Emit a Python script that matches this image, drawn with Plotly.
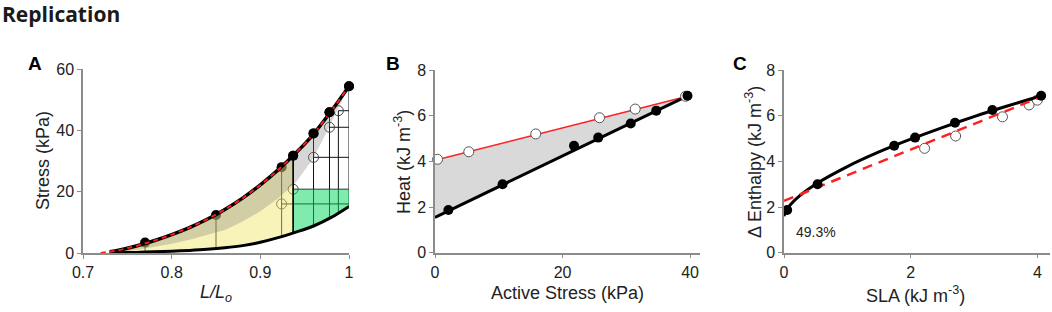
import plotly.graph_objects as go

W, H = 1052, 312

# ---------------- Panel A data ----------------
a_top_x = [0.72, 0.73, 0.74, 0.76, 0.78, 0.80, 0.82, 0.84, 0.86, 0.88, 0.90, 0.92, 0.94, 0.96, 0.98, 1.0]
a_top_y = [0.0, 0.4, 0.9, 2.3, 4.0, 6.0, 8.3, 11.0, 14.2, 17.9, 22.2, 27.1, 32.6, 38.8, 46.3, 54.4]

a_pas_x = [0.73, 0.74, 0.76, 0.78, 0.80, 0.82, 0.84, 0.86, 0.88, 0.90, 0.92, 0.94, 0.96, 0.98, 1.0]
a_pas_y = [0.0, 0.05, 0.2, 0.4, 0.6, 0.85, 1.2, 1.7, 2.4, 3.5, 5.0, 6.8, 8.8, 11.6, 15.2]

a_gray_x = [0.735, 0.76, 0.78, 0.80, 0.82, 0.84, 0.86, 0.88, 0.90, 0.92, 0.94, 0.96, 0.98, 1.0]
a_gray_y = [0.0, 1.0, 1.9, 3.0, 4.3, 5.8, 7.5, 10.3, 13.6, 17.8, 23.0, 31.0, 42.5, 54.4]

a_pts_x = [0.77, 0.85, 0.924, 0.937, 0.96, 0.978, 1.0]
a_pts_y = [3.4, 12.4, 28.0, 31.7, 39.0, 45.9, 54.4]
a_pts_pas = [0.3, 1.45, 5.3, 6.5, 8.8, 11.3, 15.2]

a_open_x = [0.924, 0.937, 0.96, 0.978, 0.988]
a_open_y = [16.0, 20.8, 31.2, 41.0, 46.4]
a_open_pas = [5.3, 6.5, 8.8, 11.3, 12.9]

a_split = 0.937      # boundary between yellow and green areas
a_split_top = 31.7
a_split_pas = 6.5
a_green_top = 20.8

# ---------------- Panel B data ----------------
b_fill_x = [2.1, 10.6, 21.8, 25.6, 30.7, 34.7, 39.6]
b_fill_y = [1.87, 3.0, 4.68, 5.04, 5.66, 6.22, 6.87]
b_open_x = [0.4, 5.3, 15.8, 25.8, 31.4, 39.3]
b_open_y = [4.09, 4.42, 5.2, 5.91, 6.29, 6.85]
b_line_x = [0.0, 39.6]
b_black_y = [1.55, 6.87]
b_red_y = [4.05, 6.85]

# ---------------- Panel C data ----------------
c_fill_x = [0.05, 0.53, 1.74, 2.07, 2.70, 3.29, 4.06]
c_fill_y = [1.87, 3.0, 4.68, 5.04, 5.69, 6.25, 6.87]
c_open_x = [2.22, 2.71, 3.45, 3.87, 4.0]
c_open_y = [4.57, 5.11, 5.95, 6.47, 6.68]
c_fit_x = [0.0, 0.02, 0.1, 0.25, 0.5, 1.0, 1.5, 2.0, 2.5, 3.0, 3.5, 4.0, 4.08]
c_fit_y = [1.6, 1.78, 2.1, 2.5, 3.0, 3.77, 4.41, 4.97, 5.48, 5.96, 6.4, 6.82, 6.88]
c_lin_x = [0.0, 4.08]
c_lin_y = [2.27, 6.85]

FONT = "Liberation Sans, Arial, sans-serif"
TICKC = "#222222"
AXC = "#8c8c8c"

fig = go.Figure()

def add(tr):
    tr.cliponaxis = False
    fig.add_trace(tr)

# ===== Panel A =====
XA, YA = "x", "y"
vx, vy = [], []
for x, y, p in zip(a_pts_x, a_pts_y, a_pts_pas):
    vx += [x, x, None]; vy += [p, y, None]
for x, y, p in zip(a_open_x, a_open_y, a_open_pas):
    if x not in a_pts_x:
        vx += [x, x, None]; vy += [p, y, None]
for x, y in zip(a_open_x, a_open_y):
    vx += [x, a_pts_x[-1], None]; vy += [y, y, None]
add(go.Scatter(x=vx, y=vy, mode="lines", line=dict(color="#111", width=1),
               xaxis=XA, yaxis=YA, hoverinfo="skip"))
add(go.Scatter(x=a_open_x, y=a_open_y, mode="markers",
               marker=dict(symbol="circle-open", size=10, color="#444", line=dict(width=1)),
               xaxis=XA, yaxis=YA))
add(go.Scatter(x=a_pts_x, y=a_pts_y, mode="markers",
               marker=dict(size=10, color="black"), xaxis=XA, yaxis=YA))

# yellow area
ty = [(x, y) for x, y in zip(a_top_x, a_top_y) if 0.73 <= x < a_split] + [(a_split, a_split_top)]
pyl = [(x, y) for x, y in zip(a_pas_x, a_pas_y) if x < a_split] + [(a_split, a_split_pas)]
yx = [p[0] for p in ty] + [p[0] for p in reversed(pyl)]
yy = [p[1] for p in ty] + [p[1] for p in reversed(pyl)]
add(go.Scatter(x=yx, y=yy, mode="lines", fill="toself", line=dict(width=0),
               fillcolor="rgba(240,230,100,0.45)", xaxis=XA, yaxis=YA, hoverinfo="skip"))
# gray band
gtx = [x for x in a_top_x if x >= a_gray_x[0]]
gty = [y for x, y in zip(a_top_x, a_top_y) if x >= a_gray_x[0]]
gx = gtx + list(reversed(a_gray_x))
gy = gty + list(reversed(a_gray_y))
add(go.Scatter(x=gx, y=gy, mode="lines", fill="toself", line=dict(width=0),
               fillcolor="rgba(120,120,120,0.30)", xaxis=XA, yaxis=YA, hoverinfo="skip"))
# green area
pg = [(a_split, a_split_pas)] + [(x, y) for x, y in zip(a_pas_x, a_pas_y) if x > a_split]
grx = [a_split, a_pas_x[-1]] + [p[0] for p in reversed(pg)]
gry = [a_green_top, a_green_top] + [p[1] for p in reversed(pg)]
add(go.Scatter(x=grx, y=gry, mode="lines", fill="toself", line=dict(width=0),
               fillcolor="rgba(0,215,90,0.5)", xaxis=XA, yaxis=YA, hoverinfo="skip"))
add(go.Scatter(x=[a_split, a_split], y=[a_split_pas, a_split_top], mode="lines",
               line=dict(color="black", width=1.6), xaxis=XA, yaxis=YA, hoverinfo="skip"))
add(go.Scatter(x=a_pas_x, y=a_pas_y, mode="lines",
               line=dict(color="black", width=3, shape="spline", smoothing=0.8),
               xaxis=XA, yaxis=YA))
add(go.Scatter(x=a_top_x[1:], y=a_top_y[1:], mode="lines",
               line=dict(color="black", width=3.5, shape="spline", smoothing=0.8),
               xaxis=XA, yaxis=YA))
add(go.Scatter(x=a_top_x, y=a_top_y, mode="lines",
               line=dict(color="#ff1a1a", width=2, dash="5px,4px", shape="spline", smoothing=0.8),
               xaxis=XA, yaxis=YA))
ox = [x for x in a_pts_x if x >= a_split]
oy = [y for x, y in zip(a_pts_x, a_pts_y) if x >= a_split]
add(go.Scatter(x=ox, y=oy, mode="markers", marker=dict(size=10, color="black"), xaxis=XA, yaxis=YA))

# ===== Panel B =====
XB, YB = "x2", "y2"
add(go.Scatter(x=b_line_x + list(reversed(b_line_x)), y=b_red_y + list(reversed(b_black_y)),
               mode="lines", fill="toself", line=dict(width=0), fillcolor="#d9d9d9",
               xaxis=XB, yaxis=YB, hoverinfo="skip"))
add(go.Scatter(x=b_line_x, y=b_red_y, mode="lines", line=dict(color="#ff2020", width=1.5), xaxis=XB, yaxis=YB))
add(go.Scatter(x=b_line_x, y=b_black_y, mode="lines", line=dict(color="black", width=3), xaxis=XB, yaxis=YB))
add(go.Scatter(x=b_open_x, y=b_open_y, mode="markers",
               marker=dict(size=10, color="white", line=dict(color="#555", width=1)), xaxis=XB, yaxis=YB))
add(go.Scatter(x=b_fill_x, y=b_fill_y, mode="markers", marker=dict(size=10, color="black"), xaxis=XB, yaxis=YB))

# ===== Panel C =====
XC, YC = "x3", "y3"
add(go.Scatter(x=c_open_x, y=c_open_y, mode="markers",
               marker=dict(size=10, color="white", line=dict(color="#555", width=1)), xaxis=XC, yaxis=YC))
add(go.Scatter(x=c_fit_x, y=c_fit_y, mode="lines",
               line=dict(color="black", width=3, shape="spline", smoothing=0.7),
               xaxis=XC, yaxis=YC))
add(go.Scatter(x=c_lin_x, y=c_lin_y, mode="lines", line=dict(color="#ff2020", width=2.5, dash="10px,7px"),
               xaxis=XC, yaxis=YC))
add(go.Scatter(x=c_fill_x, y=c_fill_y, mode="markers", marker=dict(size=10, color="black"), xaxis=XC, yaxis=YC))

def px(x):
    return x / W

def py(y):
    return 1 - y / H

def axis(domain, rng, tickvals, ticktext, anchor):
    return dict(domain=domain, range=rng, tickvals=tickvals, ticktext=ticktext, anchor=anchor,
                showline=True, linecolor=AXC, linewidth=1.5, ticks="outside", ticklen=4,
                tickcolor=AXC, tickwidth=1.2, showgrid=False, zeroline=False, automargin=False,
                tickfont=dict(family=FONT, size=16, color=TICKC), fixedrange=True)

fig.update_layout(
    width=W, height=H, autosize=False,
    margin=dict(l=0, r=0, t=0, b=0, pad=0, autoexpand=False),
    paper_bgcolor="white", plot_bgcolor="white", showlegend=False,
    xaxis=axis([px(83), px(349)], [0.7, 1.0], [0.7, 0.8, 0.9, 1.0], ["0.7", "0.8", "0.9", "1"], "y"),
    yaxis=axis([py(253), py(69)], [0, 60], [0, 20, 40, 60], ["0", "20", "40", "60"], "x"),
    xaxis2=axis([px(435), px(699.6)], [0, 41.5], [0, 20, 40], ["0", "20", "40"], "y2"),
    yaxis2=axis([py(252.7), py(70)], [0, 8], [0, 2, 4, 6, 8], ["0", "2", "4", "6", "8"], "x2"),
    xaxis3=axis([px(784), px(1050)], [0, 4.2], [0, 2, 4], ["0", "2", "4"], "y3"),
    yaxis3=axis([py(252.7), py(70)], [0, 8], [0, 2, 4, 6, 8], ["0", "2", "4", "6", "8"], "x3"),
)

ann = []
def txt(x, y, s, size=18, angle=0, weight=400, xanchor="center", family=FONT, color="#222"):
    ann.append(dict(x=px(x), y=py(y), xref="paper", yref="paper", text=s, showarrow=False,
                    textangle=angle, xanchor=xanchor, yanchor="middle",
                    font=dict(family=family, size=size, color=color, weight=weight)))

txt(0, 14, "Replication", size=21, weight=700, xanchor="left", family="Open Sans", color="#1a1a1a")
txt(35, 64, "A", size=19, weight=700, color="black")
txt(393, 64, "B", size=19, weight=700, color="black")
txt(740, 64, "C", size=19, weight=700, color="black")
txt(43, 161, "Stress (kPa)", angle=-90)
txt(216, 293, "<i>L/L<sub>o</sub></i>")
txt(402, 162, "Heat (kJ m<sup>-3</sup>)", angle=-90)
txt(567, 293, "Active Stress (kPa)")
txt(753, 162, "\u0394 Enthalpy (kJ m<sup>-3</sup>)", angle=-90)
txt(915, 294, "SLA (kJ m<sup>-3</sup>)")
ann.append(dict(x=0.5, y=0.92, xref="x3", yref="y3", text="49.3%", showarrow=False,
                font=dict(family=FONT, size=14, color="#222")))
fig.update_layout(annotations=ann)

fig.write_html("out.html", config={"displayModeBar": False},
               post_script="document.body.style.margin='0';document.body.style.overflow='hidden';")
